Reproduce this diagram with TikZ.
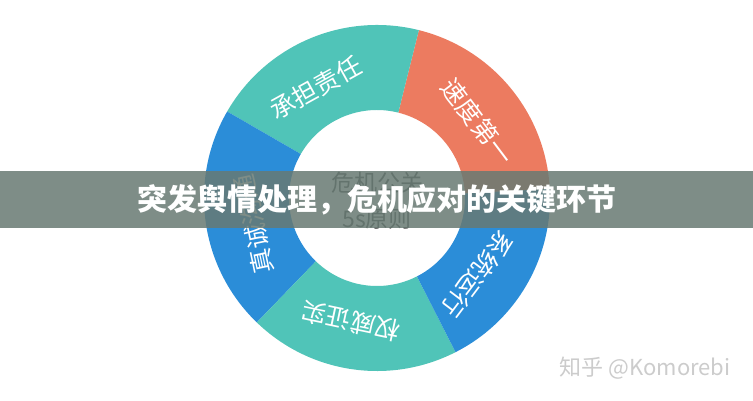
\documentclass[tikz,border=0pt]{standalone}
\usepackage{fontspec}
\usepackage{xcolor}
\newfontfamily\cjk{Noto Sans CJK SC}
\usetikzlibrary{positioning}
\definecolor{ringteal}{HTML}{50C4B8}
\definecolor{ringorange}{HTML}{EC7B60}
\definecolor{ringblue}{HTML}{2B8DD8}
\definecolor{bannergray}{HTML}{687A73}

\begin{document}
\begin{tikzpicture}[
      x=1pt,y=1pt,
      seglabel/.style={text=white,inner sep=0pt,font=\cjk\fontsize{25}{25}\selectfont},
      corelabel/.style={text=black!70,align=center,font=\cjk\fontsize{23}{36}\selectfont},
      titlelabel/.style={text=white,font=\cjk\bfseries\fontsize{30}{30}\selectfont},
      marklabel/.style={text=black!20,font=\cjk\fontsize{22}{22}\selectfont}
    ]
    \useasboundingbox (0,0) rectangle (753,400);
    \fill[white] (0,0) rectangle (753,400);

    % five segments of the ring
    \begin{scope}[shift={(377,202)}]
      \foreach \a/\b/\col in {3/76/ringorange,76/150/ringteal,150/226/ringblue,226/297/ringteal,297/363/ringblue}
        \fill[\col] (\a:173) arc[start angle=\a,end angle=\b,radius=173]
          -- (\b:88) arc[start angle=\b,end angle=\a,radius=88] -- cycle;
      \foreach \t/\txt/\nm in {37/速度第一/speed,119/承担责任/duty,192/真诚沟通/talk,258/权威证实/proof,323/系统运行/system}
        \node[seglabel,rotate=\t-90] (\nm) at (\t:126) {\txt};
    \end{scope}
    \node[corelabel] (core) at (377,199) {危机公关\\5s原则};

    % banner across the middle
    \fill[bannergray,opacity=.85] (0,172) rectangle (753,229);
    \node[titlelabel] (title) at (377,200) {突发舆情处理，危机应对的关键环节};

    \node[marklabel] (mark) at (645,32) {知乎 @Komorebi};
  \end{tikzpicture}
\end{document}
